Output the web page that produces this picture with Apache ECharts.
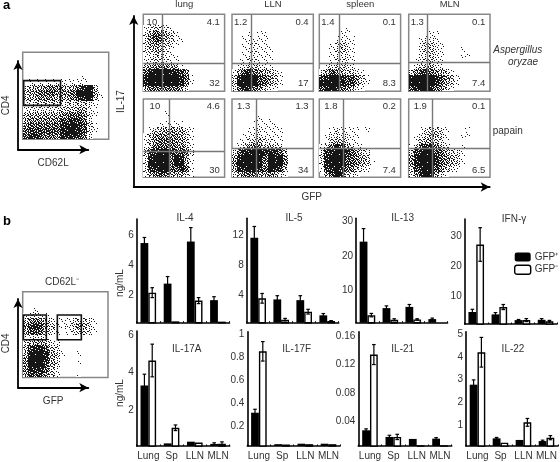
<!DOCTYPE html>
<html>
<head>
<meta charset="utf-8">
<script src="https://cdn.jsdelivr.net/npm/echarts@6/dist/echarts.min.js"></script>
<style>
  html, body { margin: 0; padding: 0; background: #fff; }
  #chart { width: 560px; height: 462px; }
</style>
</head>
<body>
<div id="chart"></div>
<script>
const categories = ['Lung', 'Sp', 'LLN', 'MLN']

// ELISA bars (ng/mL). Err = half length of the whisker
const il4Pos = [5.5, 2.8, 5.6, 1.7]
const il4PosErr = [0.37, 0.47, 0.93, 0.23]
const il4Neg = [2.2, 0.29, 1.67, 0.27]
const il4NegErr = [0.33, 0, 0.2, 0]

const il5Pos = [11.7, 3.4, 3.3, 1.26]
const il5PosErr = [1.5, 0.5, 0.6, 0.24]
const il5Neg = [3.55, 0.67, 1.75, 0.5]
const il5NegErr = [0.65, 0.18, 0.32, 0.05]

const il13Pos = [24.2, 4.85, 5.2, 1.65]
const il13PosErr = [3.8, 0.65, 0.7, 0.29]
const il13Neg = [2.8, 1.46, 1.55, 0.8]
const il13NegErr = [0.5, 0.29, 0.2, 0]

const ifngPos = [4.9, 4.1, 2.2, 2.3]
const ifngPosErr = [0.9, 0.6, 0.2, 0.4]
const ifngNeg = [27.4, 6.55, 2.2, 1.8]
const ifngNegErr = [5.6, 0.85, 0.5, 0.3]

const il17aPos = [3.3, 0.22, 0.31, 0.19]
const il17aPosErr = [0.6, 0, 0, 0.06]
const il17aNeg = [4.63, 1.05, 0.26, 0.2]
const il17aNegErr = [0.87, 0.15, 0, 0.1]

const il17fPos = [0.32, 0.046, 0.05, 0.05]
const il17fPosErr = [0.03, 0, 0, 0]
const il17fNeg = [0.855, 0.043, 0.046, 0.046]
const il17fNegErr = [0.085, 0, 0, 0]

const il21Pos = [0.028, 0.0187, 0.0159, 0.0163]
const il21PosErr = [0.002, 0.0023, 0, 0.0014]
const il21Neg = [0.134, 0.0187, 0.007, 0.007]
const il21NegErr = [0.014, 0.0037, 0, 0]

const il22Pos = [2.78, 0.43, 0.36, 0.31]
const il22PosErr = [0.21, 0.04, 0, 0.04]
const il22Neg = [4.2, 0.24, 1.13, 0.46]
const il22NegErr = [0.65, 0, 0.17, 0.09]

// flow plots: event density, top row first, 0 = empty, 9 = black
const cd4Cd62l = [
  '0000000000000000','0000000000000000','0000000000000000','0000000000000000',
  '0000000000010000','0111111111110000','2344565434689300','3456675556999410',
  '3445554445789310','1233333232332100','1222222333441100','3444444566652100',
  '4555555778762000','5666666889873100','6777776899872100','7887665888762000'
]
const cd4Gfp = [
  '0000000000000000','0000000000000000','0000000000000000','0010000000000000',
  '1221100000000000','3565321112332100','5787432123543100','4676321012332100',
  '1222200000000000','3344321000000000','3788632000000000','4899843100100000',
  '5999843000000000','5999742000100000','5888631000000000','4777531000100000'
]
const lungOryzae = [
  '0000000000000000','0000000000000000','1232210000000000','2465431000000000',
  '2576431100000000','2454321000000000','2343210000000000','1232211000000000',
  '1232211000000000','3455544100000000','6899988750000000','8999999861000000',
  '8999999851000000','4666666420000000'
]
const llnOryzae = [
  '0000000000000000','0000000000000000','0000000000000000','0001011000000000',
  '0011111000000000','0011211000000000','0011211100000000','0011211100000000',
  '0112211100000000','0124321100000000','1478654321000000','3899976531000000',
  '3999976431000000','2688653210000000'
]
const spleenOryzae = [
  '0000000000000000','0000000000000000','0000010000000000','0000110000000000',
  '0001211000000000','0012321000000000','0012321000000000','0012221000000000',
  '0012221000000000','0123321000000000','2475433210000000','7899877531000000',
  '9999877421000000','7898654210000000'
]
const mlnOryzae = [
  '0000000000000000','0000000000000000','0000000000000000','0000110000000000',
  '0012210000000000','0023321000000000','0023321000100000','0022321000110000',
  '0122321000000000','0134421000000000','3578654310000000','8999987541000000',
  '9999986431000000','7899865310000000'
]
const lungPapain = [
  '0000000000000000','0000000000000000','0000100000000000','0000000000000000',
  '0001111100000000','0134454421000000','1355555431000000','1356665431000000',
  '1366665531000000','3789986762000000','2899969841000000','2999969941000000',
  '2789976861000000','1467644431000000'
]
const llnPapain = [
  '0000000000000000','0000000000000000','0000000000000000','0000010100000000',
  '0000111110000000','0001121111000000','0011221111000000','0112342211000000',
  '0135663432000000','2688998886300000','4899996989500000','5999995999500000',
  '4889986987300000','2466644542100000'
]
const spleenPapain = [
  '0000000000000000','0000000000000000','0000000000000000','0000000000000000',
  '0000000000000000','0012111101000000','0123221100000000','0134321100000000',
  '1369742110000000','2789986432000000','3899976543000000','2899976543100000',
  '1789765321000000','0479832100000000'
]
const mlnPapain = [
  '0000000000000000','0000000000000000','0000000000000000','0000000000000000',
  '0000000000000000','0012332100010000','0123443100110000','0134432100000000',
  '1378863210100000','3789976432100000','5899986543100000','5899986543100000',
  '3789975321000000','2589842100000000'
]

// quadrant lines in percent of the plot: [vertical, horizontal]
const lungOryzaeGate = [23.4, 36.8]
const llnOryzaeGate = [23.4, 36.8]
const spleenOryzaeGate = [24.2, 36.8]
const mlnOryzaeGate = [23.4, 37.2]
const lungPapainGate = [31.6, 32.7]
const llnPapainGate = [29.5, 37.4]
const spleenPapainGate = [30, 37.4]
const mlnPapainGate = [29.5, 36.5]

// percentages printed in the quadrants: upper left, upper right, lower right
const lungOryzaeText = ['10', '4.1', '32']
const llnOryzaeText = ['1.2', '0.4', '17']
const spleenOryzaeText = ['1.4', '0.1', '8.3']
const mlnOryzaeText = ['1.3', '0.1', '7.4']
const lungPapainText = ['10', '4.6', '30']
const llnPapainText = ['1.3', '1.3', '34']
const spleenPapainText = ['1.8', '0.2', '7.4']
const mlnPapainText = ['1.9', '0.1', '6.5']

// sort gates in percent of the plot: [x0, x1, y0, y1]
const cd62lGate = [1.2, 44, 39, 67.4]
const gfpPosGate = [40.6, 68.75, 44, 72.8]
const gfpNegGate = [0.8, 27.7, 44, 72.8]

const tissues = ['lung', 'LLN', 'spleen', 'MLN']

const TEXT = '#333'
const FONT = '"Liberation Sans", Arial, sans-serif'
const BAR_W = 7.8

// fill order of an 8x8 tile, gives the dotted look of a flow plot
const STIPPLE = [
  [37, 5, 52, 21, 60, 13, 44, 28],
  [18, 57, 30, 9, 41, 34, 2, 55],
  [47, 11, 39, 63, 24, 50, 19, 32],
  [1, 26, 54, 16, 7, 58, 38, 10],
  [61, 35, 4, 46, 29, 12, 23, 49],
  [15, 43, 22, 59, 36, 53, 6, 40],
  [31, 8, 51, 0, 17, 42, 62, 25],
  [56, 20, 33, 48, 27, 3, 14, 45]
]

const stippleFills = {}
const stippleFill = (d) => {
  if (stippleFills[d]) return stippleFills[d]
  const c = document.createElement('canvas')
  c.width = 8
  c.height = 8
  const ctx = c.getContext('2d')
  ctx.fillStyle = '#fff'
  ctx.fillRect(0, 0, 8, 8)
  ctx.fillStyle = '#161616'
  const limit = d >= 9 ? 63 : Math.pow(d / 9, 1.15) * 64
  STIPPLE.forEach((row, y) => row.forEach((t, x) => {
    if (t < limit) ctx.fillRect(x, y, 1, 1)
  }))
  stippleFills[d] = { image: c, repeat: 'repeat' }
  return stippleFills[d]
}

const grids = []
const xAxes = []
const yAxes = []
const series = []
const titles = []
const graphics = []

const addText = (text, x, y, extra, rotation) => {
  graphics.push({
    type: 'text',
    x,
    y,
    rotation: rotation || 0,
    silent: true,
    style: Object.assign({
      text,
      fill: TEXT,
      font: '9.5px ' + FONT,
      textAlign: 'center',
      textVerticalAlign: 'middle'
    }, extra || {})
  })
}

// --- black arrow frames ---
const addFrame = (left, top, width, height, xName, yName, xGap, yGap) => {
  const i = grids.length
  grids.push({ left, top, width, height })
  const axisLine = {
    show: true,
    symbol: ['none', 'arrow'],
    symbolSize: [7, 9],
    lineStyle: { color: '#000', width: 1.8 }
  }
  const nameStyle = { color: TEXT, fontSize: 10, fontFamily: FONT }
  xAxes.push({
    gridIndex: i, type: 'value', min: 0, max: 1,
    axisLine, axisTick: { show: false }, axisLabel: { show: false }, splitLine: { show: false },
    name: xName, nameLocation: 'middle', nameGap: xGap, nameTextStyle: nameStyle
  })
  yAxes.push({
    gridIndex: i, type: 'value', min: 0, max: 1,
    axisLine, axisTick: { show: false }, axisLabel: { show: false }, splitLine: { show: false },
    name: yName, nameLocation: 'middle', nameGap: yGap, nameTextStyle: nameStyle
  })
}

addFrame(12.3, 61, 76, 88.7, 'CD62L', 'CD4', 9, 7)
addFrame(133.7, 16, 356, 171, 'GFP', 'IL-17', 5, 7)
addFrame(12.3, 299, 76, 88.7, 'GFP', 'CD4', 9, 7)

// --- flow plots ---
const renderCell = (params, api) => {
  const a = api.coord([api.value(0), api.value(3)])
  const b = api.coord([api.value(1), api.value(2)])
  const x = Math.round(a[0])
  const y = Math.round(a[1])
  return {
    type: 'rect',
    shape: { x, y, width: Math.round(b[0]) - x, height: Math.round(b[1]) - y },
    style: { fill: stippleFill(api.value(4)) }
  }
}

const addFlow = (box, rows, quadrant, gates) => {
  const i = grids.length
  const [left, top, width, height] = box
  grids.push({ left, top, width, height, show: true, borderColor: '#888', borderWidth: 1.5, backgroundColor: '#fff' })
  const hidden = {
    gridIndex: i, type: 'value', min: 0, max: 100,
    axisLine: { show: false }, axisTick: { show: false }, axisLabel: { show: false }, splitLine: { show: false }
  }
  xAxes.push(Object.assign({}, hidden))
  yAxes.push(Object.assign({}, hidden))

  const cols = rows[0].length
  const cells = []
  rows.forEach((row, r) => {
    row.split('').forEach((ch, c) => {
      const d = Number(ch)
      if (!d) return
      cells.push([
        c / cols * 100,
        (c + 1) / cols * 100,
        100 - (r + 1) / rows.length * 100,
        100 - r / rows.length * 100,
        d
      ])
    })
  })
  series.push({
    type: 'custom',
    xAxisIndex: i,
    yAxisIndex: i,
    silent: true,
    renderItem: renderCell,
    data: cells
  })
  const over = {
    type: 'scatter',
    xAxisIndex: i,
    yAxisIndex: i,
    silent: true,
    z: 5,
    data: []
  }
  if (quadrant) {
    over.markLine = {
      silent: true,
      z: 6,
      symbol: 'none',
      label: { show: false },
      lineStyle: { color: '#777', width: 1.4, type: 'solid' },
      data: [{ xAxis: quadrant[0] }, { yAxis: quadrant[1] }]
    }
  }
  if (gates) {
    over.markArea = {
      silent: true,
      z: 6,
      itemStyle: { color: 'transparent', borderColor: '#111', borderWidth: 1.6 },
      data: gates.map(g => [{ xAxis: g[0], yAxis: g[2] }, { xAxis: g[1], yAxis: g[3] }])
    }
  }
  series.push(over)
}

addFlow([22.7, 52.3, 86, 87], cd4Cd62l, null, [cd62lGate])
addFlow([22.7, 291.7, 85.3, 85.7], cd4Gfp, null, [gfpNegGate, gfpPosGate])

const flowLefts = [143.3, 232, 319.3, 408.7]
const oryzaeFlow = [lungOryzae, llnOryzae, spleenOryzae, mlnOryzae]
const oryzaeGates = [lungOryzaeGate, llnOryzaeGate, spleenOryzaeGate, mlnOryzaeGate]
const oryzaeTexts = [lungOryzaeText, llnOryzaeText, spleenOryzaeText, mlnOryzaeText]
const papainFlow = [lungPapain, llnPapain, spleenPapain, mlnPapain]
const papainGates = [lungPapainGate, llnPapainGate, spleenPapainGate, mlnPapainGate]
const papainTexts = [lungPapainText, llnPapainText, spleenPapainText, mlnPapainText]

flowLefts.forEach((left, k) => {
  addFlow([left, 14.3, 81.3, 77], oryzaeFlow[k], oryzaeGates[k])
  addFlow([left, 99, 81.3, 78.3], papainFlow[k], papainGates[k])

  addText(oryzaeTexts[k][0], left + 8.6, 22)
  addText(oryzaeTexts[k][1], left + 76.6, 22, { textAlign: 'right' })
  addText(oryzaeTexts[k][2], left + 76.6, 83.3, { textAlign: 'right' })
  addText(papainTexts[k][0], left + 11.6, 106.7)
  addText(papainTexts[k][1], left + 76.6, 106.7, { textAlign: 'right' })
  addText(papainTexts[k][2], left + 76.6, 170, { textAlign: 'right' })
  addText(tissues[k], left + 41, 4.6)
})

addText('Aspergillus', 493.3, 50, { textAlign: 'left', font: 'italic 10px ' + FONT })
addText('oryzae', 508, 62, { textAlign: 'left', font: 'italic 10px ' + FONT })
addText('papain', 492.7, 131.7, { textAlign: 'left', font: '10px ' + FONT })
addText('CD62L\u207B', 62, 282, { font: '10px ' + FONT })
addText('a', 3, 5, { textAlign: 'left', font: 'bold 13px ' + FONT, fill: '#000' })
addText('b', 3, 221, { textAlign: 'left', font: 'bold 13px ' + FONT, fill: '#000' })
addText('ng/mL', 120, 283, { font: '10px ' + FONT }, Math.PI / 2)
addText('ng/mL', 120, 393, { font: '10px ' + FONT }, Math.PI / 2)

// --- cytokine bars ---
const renderError = (params, api) => {
  const x = api.value(0)
  const val = api.value(1)
  const err = api.value(2)
  const off = api.value(3) * BAR_W / 2
  const top = api.coord([x, val + err])
  const bottom = api.coord([x, val - err])
  const cx = top[0] + off
  const style = { stroke: '#000', lineWidth: 1.2 }
  return {
    type: 'group',
    children: [
      { type: 'line', shape: { x1: cx, y1: top[1], x2: cx, y2: bottom[1] }, style },
      { type: 'line', shape: { x1: cx - 1.8, y1: top[1], x2: cx + 1.8, y2: top[1] }, style },
      { type: 'line', shape: { x1: cx - 1.8, y1: bottom[1], x2: cx + 1.8, y2: bottom[1] }, style }
    ]
  }
}

const addBars = (cfg) => {
  const i = grids.length
  const [left, top, width, height] = cfg.box
  grids.push({ left, top, width, height })
  xAxes.push({
    gridIndex: i,
    type: 'category',
    data: categories,
    axisLine: { lineStyle: { color: '#000', width: 1.6 } },
    axisTick: { show: true, inside: true, length: 1.5, lineStyle: { color: '#000' } },
    axisLabel: { show: !!cfg.showCats, color: TEXT, fontSize: 10, fontFamily: FONT, margin: 5, interval: 0 },
    splitLine: { show: false }
  })
  yAxes.push({
    gridIndex: i,
    type: 'value',
    min: cfg.min,
    max: cfg.max,
    axisLine: { show: true, lineStyle: { color: '#000', width: 1.6 } },
    axisTick: { show: false },
    axisLabel: {
      color: TEXT,
      fontSize: 10,
      fontFamily: FONT,
      margin: 3,
      customValues: cfg.ticks
    },
    splitLine: { show: false }
  })
  titles.push({
    text: cfg.title,
    left: cfg.titleX,
    top: cfg.titleY,
    padding: 0,
    textAlign: 'center',
    textStyle: { color: TEXT, fontSize: 10, fontWeight: 'normal', fontFamily: FONT }
  })
  series.push({
    name: 'GFP\u207A',
    type: 'bar',
    xAxisIndex: i,
    yAxisIndex: i,
    barWidth: BAR_W,
    barGap: 0,
    itemStyle: { color: '#000' },
    data: cfg.pos
  })
  series.push({
    name: 'GFP\u207B',
    type: 'bar',
    xAxisIndex: i,
    yAxisIndex: i,
    barWidth: BAR_W,
    barGap: 0,
    itemStyle: { color: '#fff', borderColor: '#000', borderWidth: 1.4 },
    data: cfg.neg
  })
  const errData = []
  categories.forEach((c, k) => {
    if (cfg.posErr[k]) errData.push([k, cfg.pos[k], cfg.posErr[k], -1])
    if (cfg.negErr[k]) errData.push([k, cfg.neg[k], cfg.negErr[k], 1])
  })
  series.push({
    type: 'custom',
    xAxisIndex: i,
    yAxisIndex: i,
    silent: true,
    z: 5,
    renderItem: renderError,
    data: errData
  })
}

addBars({ box: [136.7, 219, 92.8, 103.7], min: 0.2, max: 7.1, ticks: [2, 4, 6], title: 'IL-4', titleX: 185, titleY: 213,
  pos: il4Pos, posErr: il4PosErr, neg: il4Neg, negErr: il4NegErr })
addBars({ box: [246.7, 218.3, 92, 104.4], min: 0.27, max: 14.3, ticks: [4, 8, 12], title: 'IL-5', titleX: 294, titleY: 213,
  pos: il5Pos, posErr: il5PosErr, neg: il5Neg, negErr: il5NegErr })
addBars({ box: [356, 218.3, 91.6, 104.4], min: 0.6, max: 31, ticks: [10, 20, 30], title: 'IL-13', titleX: 402.7, titleY: 213,
  pos: il13Pos, posErr: il13PosErr, neg: il13Neg, negErr: il13NegErr })
addBars({ box: [464.7, 219, 92.4, 105], min: 0.9, max: 35.9, ticks: [10, 20, 30], title: 'IFN-\u03B3', titleX: 514, titleY: 214,
  pos: ifngPos, posErr: ifngPosErr, neg: ifngNeg, negErr: ifngNegErr })
addBars({ box: [136.7, 331, 93, 115], min: 0.08, max: 6.2, ticks: [2, 4, 6], title: 'IL-17A', titleX: 186.7, titleY: 344,
  pos: il17aPos, posErr: il17aPosErr, neg: il17aNeg, negErr: il17aNegErr, showCats: true })
addBars({ box: [247.3, 331.7, 92.8, 114.3], min: 0.03, max: 1.026, ticks: [0.2, 0.4, 0.6, 0.8, 1], title: 'IL-17F', titleX: 296.7, titleY: 344,
  pos: il17fPos, posErr: il17fPosErr, neg: il17fNeg, negErr: il17fNegErr, showCats: true })
addBars({ box: [358.3, 331.7, 93.4, 114.3], min: 0.006, max: 0.166, ticks: [0.04, 0.08, 0.12, 0.16], title: 'IL-21', titleX: 402.7, titleY: 344,
  pos: il21Pos, posErr: il21PosErr, neg: il21Neg, negErr: il21NegErr, showCats: true })
addBars({ box: [466, 331.7, 92.3, 114.3], min: 0.095, max: 5.1, ticks: [1, 2, 3, 4, 5], title: 'IL-22', titleX: 513, titleY: 344,
  pos: il22Pos, posErr: il22PosErr, neg: il22Neg, negErr: il22NegErr, showCats: true })

const chart = echarts.init(document.getElementById('chart'), null, { renderer: 'canvas' })
chart.setOption({
  animation: false,
  backgroundColor: '#fff',
  textStyle: { fontFamily: FONT },
  title: titles,
  grid: grids,
  xAxis: xAxes,
  yAxis: yAxes,
  series,
  graphic: graphics,
  legend: {
    orient: 'vertical',
    left: 514,
    top: 252,
    itemWidth: 16,
    itemHeight: 9,
    itemGap: 2.5,
    padding: 0,
    selectedMode: false,
    data: [
      { name: 'GFP\u207A', itemStyle: { color: '#000' } },
      { name: 'GFP\u207B', itemStyle: { color: '#fff', borderColor: '#000', borderWidth: 1.4 } }
    ],
    textStyle: { color: TEXT, fontSize: 10, fontFamily: FONT, padding: [0, 0, 0, -1] }
  }
})
</script>
</body>
</html>
